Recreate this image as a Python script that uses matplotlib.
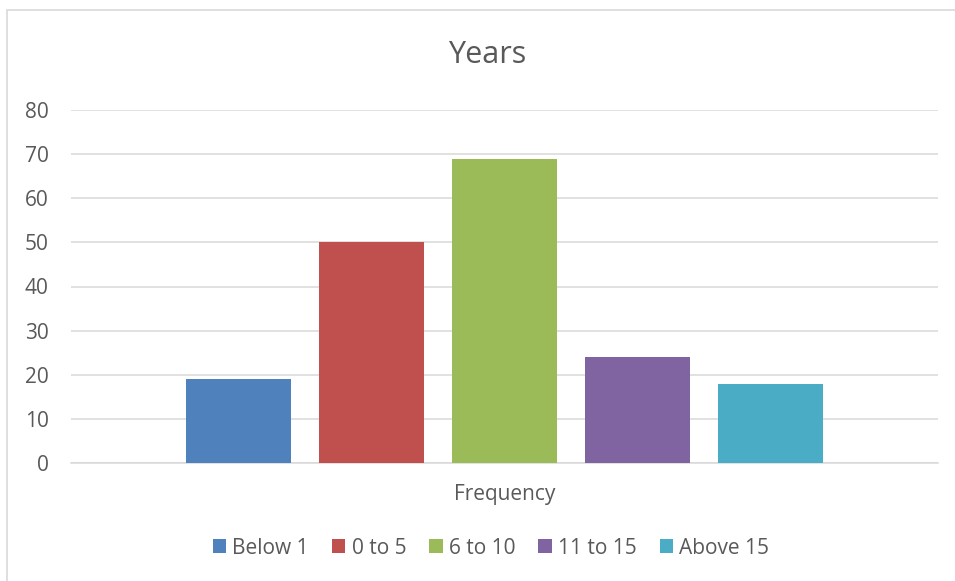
import matplotlib
matplotlib.use("Agg")
import matplotlib.pyplot as plt
from matplotlib.patches import Rectangle

# Frequency of respondents by years band
categories = ["Below 1", "0 to 5", "6 to 10", "11 to 15", "Above 15"]
values = [19, 50, 69, 24, 18]
colors = ["#4F81BD", "#C0504D", "#9BBB59", "#8064A2", "#4BACC6"]
group_label = "Frequency"

text_color = "#595959"
grid_color = "#D9D9D9"

plt.rcParams["font.family"] = ["Open Sans", "DejaVu Sans"]

fig = plt.figure(figsize=(9.55, 5.81), dpi=100)
ax = fig.add_axes([71 / 955, 1 - 463 / 581, (938 - 71) / 955, (463 - 110) / 581])

# one category, five series side by side
bar_width = 0.1211
step = 0.1534
n = len(values)
for i, (name, val, col) in enumerate(zip(categories, values, colors)):
    x = (i - (n - 1) / 2) * step
    ax.bar(x, val, width=bar_width, color=col, label=name, zorder=3)

ax.set_xlim(-0.5, 0.5)
ax.set_ylim(0, 80)
ax.set_yticks(range(0, 81, 10))
ax.set_xticks([0])
ax.set_xticklabels([group_label])
ax.yaxis.grid(True, color=grid_color, linewidth=1.1, zorder=0)
ax.set_axisbelow(True)
for side in ["top", "right", "left"]:
    ax.spines[side].set_visible(False)
ax.spines["bottom"].set_color(grid_color)
ax.spines["bottom"].set_linewidth(1.1)
ax.tick_params(axis="y", length=0, pad=16, labelsize=15, labelcolor=text_color)
ax.tick_params(axis="x", length=0, pad=15, labelsize=15, labelcolor=text_color)

fig.text(487 / 955, 1 - 55 / 581, "Years", ha="center", va="center",
         fontsize=22, color=text_color)

fig.legend(loc="center", bbox_to_anchor=(491 / 955, 1 - 548 / 581), ncol=n,
           frameon=False, fontsize=15, labelcolor=text_color,
           handlelength=0.65, handleheight=0.65, handletextpad=0.3,
           columnspacing=1.1)

# chart frame, cut off on the right and bottom
fig.add_artist(Rectangle((7 / 955, -0.1), 1.2, (581 - 10) / 581 + 0.1,
                         transform=fig.transFigure, fill=False,
                         edgecolor=grid_color, linewidth=1.2))

fig.savefig("out.png", dpi=100)
